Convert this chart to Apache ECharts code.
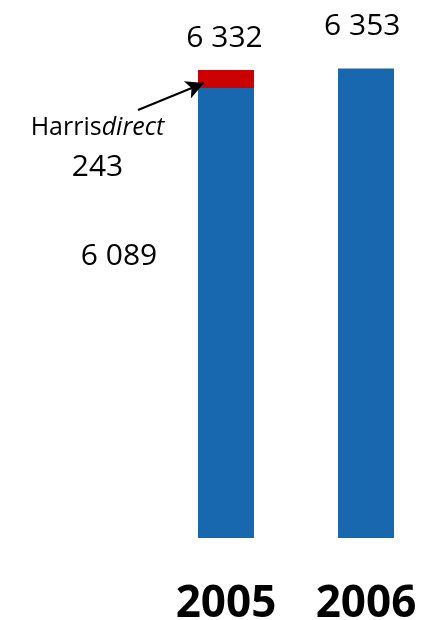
<!DOCTYPE html>
<html>
<head>
<meta charset="utf-8">
<script src="https://cdn.jsdelivr.net/npm/echarts@6/dist/echarts.min.js"></script>
<style>
  html, body { margin: 0; padding: 0; background: #ffffff; }
  #chart { width: 424px; height: 620px; }
</style>
</head>
<body>
<div id="chart"></div>
<script>
// Customer accounts by year (thousands)
const years = ['2005', '2006'];
const coreAccounts = [6089, 6353];
const harrisDirect = [243, null];
const acquisitionName = ['Harris', 'direct'];

const totals = years.map((_, i) => coreAccounts[i] + (harrisDirect[i] || 0));
const fmt = v => String(v).replace(/\B(?=(\d{3})+(?!\d))/g, ' ');

const FONT = 'Open Sans';
const BLUE = '#1868B0';
const RED = '#CC0000';

const chart = echarts.init(document.getElementById('chart'), null, { renderer: 'canvas' });

const numLabel = {
  color: '#000000',
  fontFamily: FONT,
  fontSize: 30,
  align: 'center',
  verticalAlign: 'middle'
};

chart.setOption({
  animation: false,
  backgroundColor: '#ffffff',
  // category points sit on the grid edges, one bar at each end
  grid: { left: 226, right: 58, top: 20.63, bottom: 82, containLabel: false, outerBoundsMode: 'none' },
  xAxis: {
    type: 'category',
    data: years,
    boundaryGap: false,
    axisLine: { show: false },
    axisTick: { show: false },
    splitLine: { show: false },
    axisLabel: {
      color: '#000000',
      fontFamily: FONT,
      fontWeight: 'bold',
      fontSize: 44,
      margin: 44
    }
  },
  yAxis: {
    type: 'value',
    min: 0,
    max: 7000,
    show: false,
    splitLine: { show: false }
  },
  series: [
    {
      name: 'core',
      type: 'bar',
      stack: 'accounts',
      barWidth: 56,
      itemStyle: { color: BLUE },
      data: coreAccounts.map((v, i) => ({
        value: v,
        label: i === 0
          ? Object.assign({ show: true, position: [-79, 168], formatter: p => fmt(p.value) }, numLabel)
          : { show: false }
      }))
    },
    {
      name: acquisitionName.join(''),
      type: 'bar',
      stack: 'accounts',
      barWidth: 56,
      itemStyle: { color: RED },
      data: harrisDirect.map(v => ({
        value: v,
        label: {
          show: v != null,
          position: [-100.5, 38.5],
          align: 'center',
          verticalAlign: 'top',
          formatter: p => '{n|' + acquisitionName[0] + '}{i|' + acquisitionName[1] + '}\n{v|' + fmt(p.value) + '}',
          rich: {
            n: { fontFamily: FONT, fontSize: 25, color: '#000', lineHeight: 39 },
            i: { fontFamily: FONT, fontSize: 25, fontStyle: 'italic', color: '#000', lineHeight: 39 },
            v: { fontFamily: FONT, fontSize: 30, color: '#000', lineHeight: 39, align: 'center' }
          }
        }
      })),
      markLine: {
        silent: true,
        symbol: ['none', 'arrow'],
        symbolSize: [14, 18],
        label: { show: false },
        lineStyle: { color: '#000000', width: 2, type: 'solid' },
        data: [[{ x: 138, y: 110 }, { x: 204, y: 83 }]]
      }
    },
    {
      name: 'total',
      type: 'bar',
      stack: 'accounts',
      barWidth: 56,
      itemStyle: { color: 'rgba(0,0,0,0)' },
      data: totals.map((t, i) => ({
        value: 0,
        label: Object.assign({
          show: true,
          position: i === 0 ? [26.5, -31.7] : [24.3, -41.7],
          formatter: () => fmt(t)
        }, numLabel)
      }))
    }
  ]
});
</script>
</body>
</html>
